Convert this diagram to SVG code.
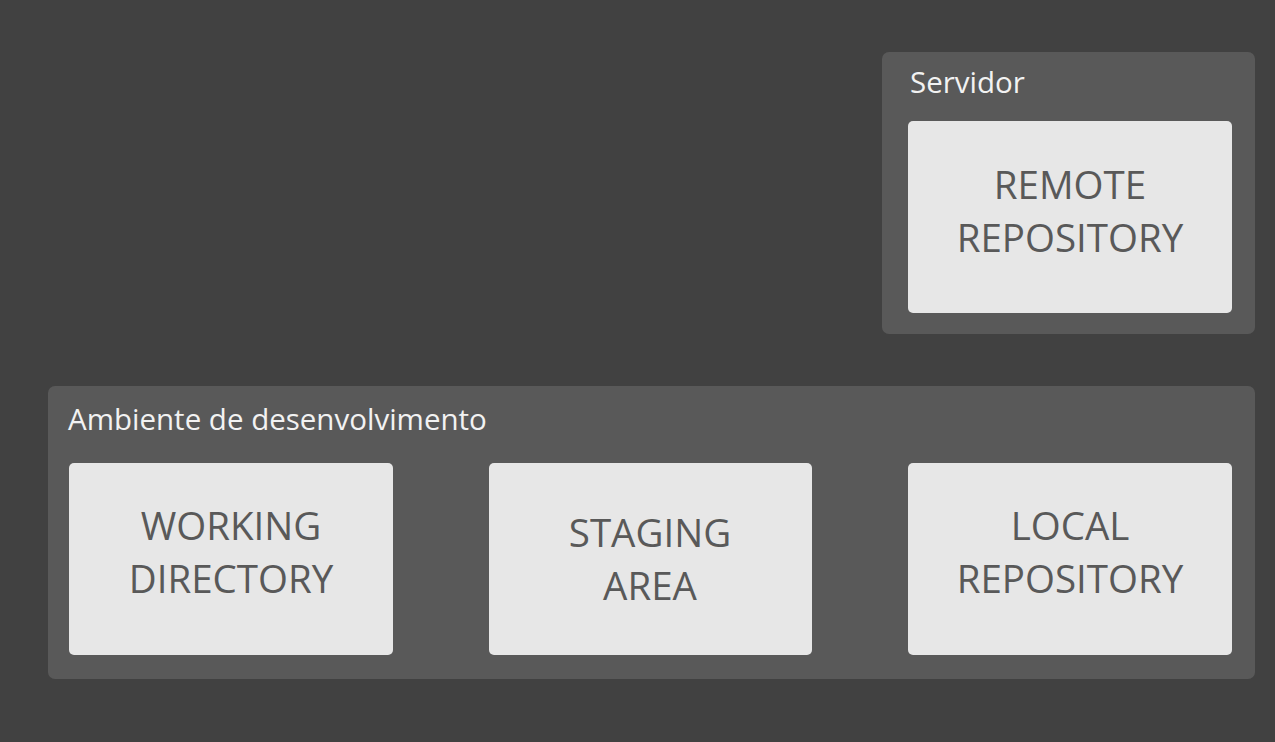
<svg xmlns="http://www.w3.org/2000/svg" width="1275" height="742" viewBox="0 0 1275 742">
<style>
.bg{fill:#414141}
.container{fill:#595959}
.box{fill:#e7e7e7}
.clabel{font-family:"Open Sans","Liberation Sans",sans-serif;font-size:29.5px;fill:#f2f2f2}
.blabel{font-family:"Open Sans","Liberation Sans",sans-serif;font-size:38.5px;fill:#595959;text-anchor:middle}
</style>
<rect class="bg" x="0" y="0" width="1275" height="742"/>
<g id="servidor">
<rect class="container" x="882" y="52" width="373" height="282" rx="7"/>
<text class="clabel" x="910" y="93">Servidor</text>
</g>
<g id="remote-repository">
<rect class="box" x="908" y="121" width="324" height="192" rx="5"/>
<text class="blabel" x="1070" y="199">REMOTE</text>
<text class="blabel" x="1070" y="252">REPOSITORY</text>
</g>
<g id="ambiente">
<rect class="container" x="48" y="386" width="1207" height="293" rx="7"/>
<text class="clabel" x="68" y="430">Ambiente de desenvolvimento</text>
</g>
<g id="working-directory">
<rect class="box" x="69" y="463" width="324" height="192" rx="5"/>
<text class="blabel" x="231" y="540">WORKING</text>
<text class="blabel" x="231" y="593">DIRECTORY</text>
</g>
<g id="staging-area">
<rect class="box" x="489" y="463" width="323" height="192" rx="5"/>
<text class="blabel" x="650" y="547">STAGING</text>
<text class="blabel" x="650" y="600">AREA</text>
</g>
<g id="local-repository">
<rect class="box" x="908" y="463" width="324" height="192" rx="5"/>
<text class="blabel" x="1070" y="540">LOCAL</text>
<text class="blabel" x="1070" y="593">REPOSITORY</text>
</g>
<g id="connectors"></g>
</svg>
